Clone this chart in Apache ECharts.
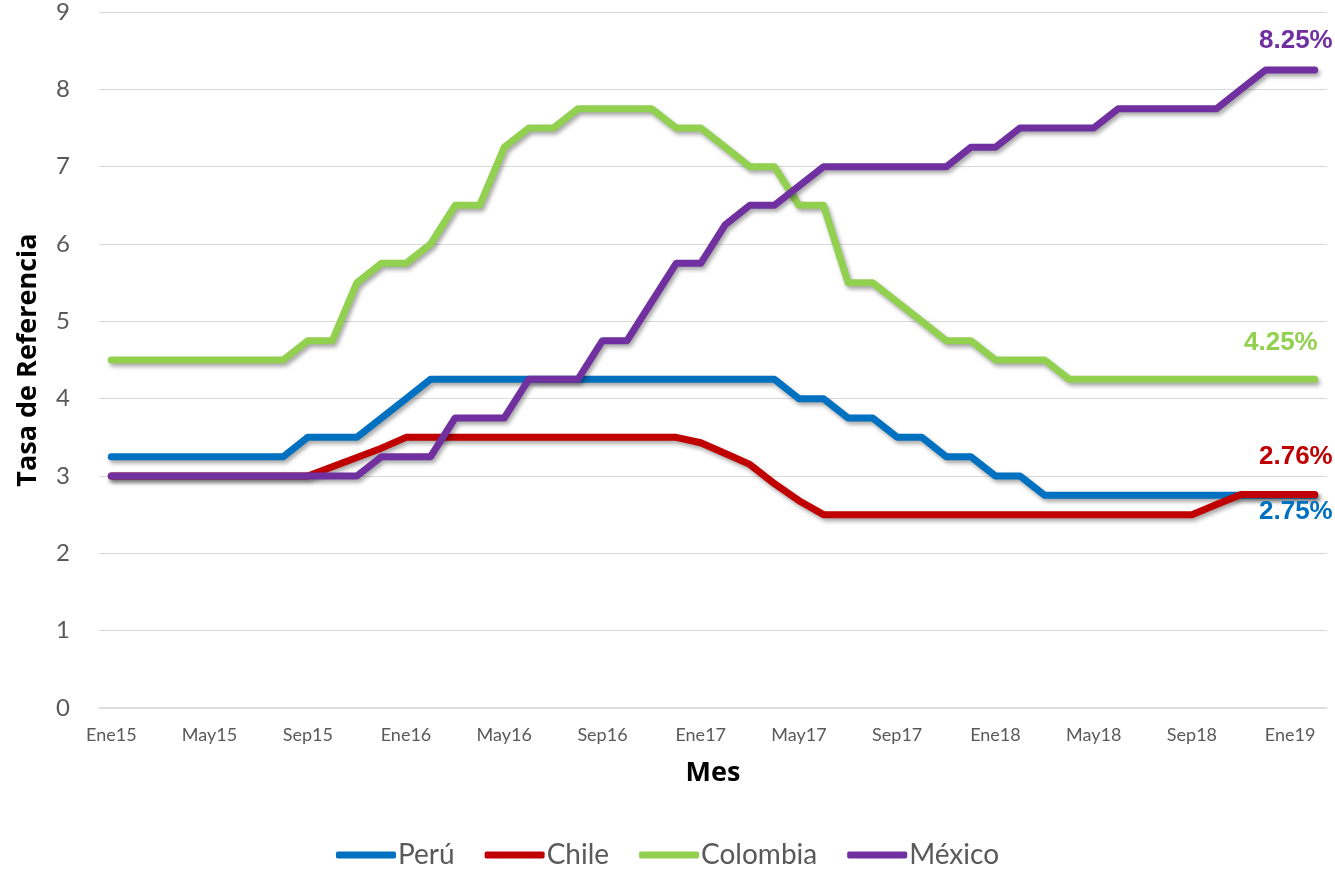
<!DOCTYPE html>
<html><head><meta charset="utf-8">
<script src="https://cdn.jsdelivr.net/npm/echarts@6/dist/echarts.min.js"></script>
<style>html,body{margin:0;padding:0;background:#fff}#c{width:1335px;height:869px}</style>
</head><body><div id="c"></div>
<script>
const categories = [
  'Ene15','Feb15','Mar15','Abr15','May15','Jun15','Jul15','Ago15','Sep15','Oct15','Nov15','Dic15',
  'Ene16','Feb16','Mar16','Abr16','May16','Jun16','Jul16','Ago16','Sep16','Oct16','Nov16','Dic16',
  'Ene17','Feb17','Mar17','Abr17','May17','Jun17','Jul17','Ago17','Sep17','Oct17','Nov17','Dic17',
  'Ene18','Feb18','Mar18','Abr18','May18','Jun18','Jul18','Ago18','Sep18','Oct18','Nov18','Dic18',
  'Ene19','Feb19'
];
const peru = [3.25,3.25,3.25,3.25,3.25,3.25,3.25,3.25,3.5,3.5,3.5,3.75,
  4.0,4.25,4.25,4.25,4.25,4.25,4.25,4.25,4.25,4.25,4.25,4.25,
  4.25,4.25,4.25,4.25,4.0,4.0,3.75,3.75,3.5,3.5,3.25,3.25,
  3.0,3.0,2.75,2.75,2.75,2.75,2.75,2.75,2.75,2.75,2.75,2.75,
  2.75,2.75];
const chile = [3.0,3.0,3.0,3.0,3.0,3.0,3.0,3.0,3.0,3.12,3.24,3.36,
  3.5,3.5,3.5,3.5,3.5,3.5,3.5,3.5,3.5,3.5,3.5,3.5,
  3.43,3.29,3.15,2.9,2.68,2.5,2.5,2.5,2.5,2.5,2.5,2.5,
  2.5,2.5,2.5,2.5,2.5,2.5,2.5,2.5,2.5,2.63,2.76,2.76,
  2.76,2.76];
const colombia = [4.5,4.5,4.5,4.5,4.5,4.5,4.5,4.5,4.75,4.75,5.5,5.75,
  5.75,6.0,6.5,6.5,7.25,7.5,7.5,7.75,7.75,7.75,7.75,7.5,
  7.5,7.25,7.0,7.0,6.5,6.5,5.5,5.5,5.25,5.0,4.75,4.75,
  4.5,4.5,4.5,4.25,4.25,4.25,4.25,4.25,4.25,4.25,4.25,4.25,
  4.25,4.25];
const mexico = [3.0,3.0,3.0,3.0,3.0,3.0,3.0,3.0,3.0,3.0,3.0,3.25,
  3.25,3.25,3.75,3.75,3.75,4.25,4.25,4.25,4.75,4.75,5.25,5.75,
  5.75,6.25,6.5,6.5,6.75,7.0,7.0,7.0,7.0,7.0,7.0,7.25,
  7.25,7.5,7.5,7.5,7.5,7.75,7.75,7.75,7.75,7.75,8.0,8.25,
  8.25,8.25];
const seriesNames = ['Perú','Chile','Colombia','México'];
const seriesColors = ['#0070C0','#C00000','#92D050','#7030A0'];
const yTicks = [0,1,2,3,4,5,6,7,8,9];

const seriesData = [peru, chile, colombia, mexico];
const endOffsets = [[18,16],[18,-38],[3,-37],[18,-29]];

const chart = echarts.init(document.getElementById('c'), null, {renderer:'canvas'});
chart.setOption({
  animation: false,
  backgroundColor: '#fff',
  grid: {left: 99, right: 8, top: 12, bottom: 161, containLabel: false},
  legend: {
    data: seriesNames,
    top: 836,
    left: 'center',
    icon: 'roundRect',
    itemWidth: 60,
    itemHeight: 7,
    itemGap: 30,
    textStyle: {color: '#595959', fontSize: 28, fontFamily: 'Lato', padding: [0, 0, 0, -3]}
  },
  xAxis: {
    type: 'category',
    data: categories,
    boundaryGap: true,
    name: 'Mes',
    nameLocation: 'middle',
    nameGap: 52,
    nameTextStyle: {color: '#000', fontSize: 27, fontWeight: 'bold', fontFamily: 'Open Sans'},
    axisLine: {lineStyle: {color: '#D9D9D9', width: 1.5}},
    axisTick: {show: false},
    axisLabel: {interval: 3, color: '#595959', fontSize: 18, fontFamily: 'Lato', margin: 18}
  },
  yAxis: {
    type: 'value',
    min: yTicks[0],
    max: yTicks[yTicks.length-1],
    interval: 1,
    name: 'Tasa de Referencia',
    nameLocation: 'middle',
    nameGap: 57,
    nameTextStyle: {color: '#000', fontSize: 27, fontWeight: 'bold', fontFamily: 'Open Sans'},
    axisLine: {show: false},
    axisTick: {show: false},
    axisLabel: {color: '#595959', fontSize: 24, fontFamily: 'Lato', margin: 29},
    splitLine: {lineStyle: {color: '#D9D9D9', width: 1}}
  },
  series: seriesData.map((d, i) => ({
    name: seriesNames[i],
    type: 'line',
    data: d,
    symbol: 'none',
    color: seriesColors[i],
    lineStyle: {
      width: 7, color: seriesColors[i], cap: 'round', join: 'round',
      shadowColor: 'rgba(0,0,0,0.35)', shadowBlur: 4, shadowOffsetX: 2, shadowOffsetY: 3
    },
    endLabel: {
      show: true,
      formatter: p => p.value.toFixed(2) + '%',
      color: seriesColors[i],
      fontSize: 26,
      fontWeight: 'bold',
      fontFamily: 'Liberation Sans',
      align: 'right',
      verticalAlign: 'middle',
      distance: 0,
      offset: endOffsets[i]
    },
    emphasis: {disabled: true}
  }))
});
</script></body></html>
